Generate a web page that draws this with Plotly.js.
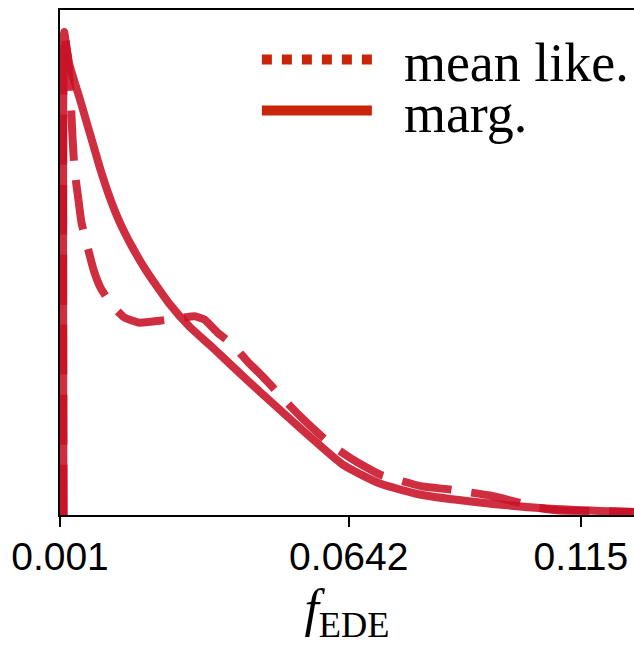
<!DOCTYPE html>
<html>
<head>
<meta charset="utf-8">
<script src="https://cdn.plot.ly/plotly-3.0.1.min.js"></script>
<style>html,body{margin:0;padding:0;background:#fff;}#plot{width:634px;height:645px;}</style>
</head>
<body>
<div id="plot"></div>
<script>
// marginal posterior (solid)
const margX = [0.00177, 0.00192, 0.00242, 0.00308, 0.00418, 0.00527, 0.0068, 0.00834, 0.00987, 0.01184, 0.01403, 0.01666, 0.01973, 0.02477, 0.02937, 0.03441, 0.04185, 0.04908, 0.05566, 0.06288, 0.071, 0.07975, 0.0929, 0.10757, 0.11918, 0.12663];
const margY = [0, 1.0, 0.9669, 0.9318, 0.8966, 0.8635, 0.8139, 0.7642, 0.7146, 0.6587, 0.607, 0.5574, 0.5078, 0.4395, 0.3898, 0.3464, 0.2802, 0.2182, 0.1624, 0.1044, 0.0651, 0.0424, 0.0259, 0.0134, 0.0083, 0.0062];
// mean likelihood (dashed)
const likeX = [0.00177, 0.00192, 0.00264, 0.0033, 0.00374, 0.00418, 0.00505, 0.00571, 0.00702, 0.00834, 0.00987, 0.01228, 0.01513, 0.01842, 0.0228, 0.02718, 0.03046, 0.03265, 0.0355, 0.03879, 0.04207, 0.04536, 0.04864, 0.05171, 0.05456, 0.05784, 0.06113, 0.06442, 0.06771, 0.071, 0.07537, 0.08041, 0.08632, 0.09092, 0.09509, 0.10056, 0.10538, 0.11042, 0.11984, 0.12663];
const likeY = [0, 0.998, 0.9524, 0.8697, 0.7818, 0.7146, 0.6515, 0.605, 0.5553, 0.5078, 0.4705, 0.4354, 0.4085, 0.3981, 0.4023, 0.4075, 0.4116, 0.4044, 0.3774, 0.3526, 0.3175, 0.2865, 0.2534, 0.2223, 0.1954, 0.1665, 0.1396, 0.1189, 0.1003, 0.0838, 0.0713, 0.0589, 0.0527, 0.0465, 0.0403, 0.0279, 0.0155, 0.0093, 0.0083, 0.0062];
const tickVals = [0.001, 0.0642, 0.115];
const tickText = ['0.001', '0.0642', '0.115'];
const legendNames = ['\u00a0\u00a0mean like.', '\u00a0\u00a0marg.'];

const curveColor = 'rgba(200,16,38,0.88)';
const legendColor = '#c8250a';
const legendFont = {family: 'Liberation Serif, serif', size: 54, color: '#000'};

const traces = [
  {x: likeX, y: likeY, mode: 'lines', showlegend: false, hoverinfo: 'skip',
   line: {color: curveColor, width: 8, dash: '50px,20px', shape: 'spline', smoothing: 0.4}},
  {x: margX, y: margY, mode: 'lines', showlegend: false, hoverinfo: 'skip',
   line: {color: curveColor, width: 8, shape: 'spline', smoothing: 0.5}},
  {x: [null], y: [null], mode: 'lines', name: legendNames[0], showlegend: true, legend: 'legend',
   line: {color: legendColor, width: 10, dash: 'dot'}},
  {x: [null], y: [null], mode: 'lines', name: legendNames[1], showlegend: true, legend: 'legend2',
   line: {color: legendColor, width: 10}}
];

const layout = {
  width: 634, height: 645,
  margin: {l: 60, r: 0, t: 10, b: 130, pad: 0},
  paper_bgcolor: '#fff', plot_bgcolor: '#fff',
  showlegend: true,
  legend: {x: 0.343, y: 0.901, xanchor: 'left', yanchor: 'middle', bgcolor: 'rgba(0,0,0,0)',
           font: legendFont, itemwidth: 110},
  legend2: {x: 0.343, y: 0.80, xanchor: 'left', yanchor: 'middle', bgcolor: 'rgba(0,0,0,0)',
           font: legendFont, itemwidth: 110},
  xaxis: {
    range: [0.001, 0.12663], showgrid: false, zeroline: false,
    showline: true, linecolor: '#000', linewidth: 2, mirror: true,
    ticks: 'outside', ticklen: 10, tickwidth: 2, tickcolor: '#000',
    tickvals: tickVals, ticktext: tickText, ticklabelstandoff: -4,
    tickfont: {family: 'Liberation Sans, sans-serif', size: 39, color: '#000'},
    title: {text: '<i>f</i><sub>EDE</sub>', font: {family: 'Liberation Serif, serif', size: 52, color: '#000'}, standoff: 19}
  },
  yaxis: {
    range: [0, 1.0455], showgrid: false, zeroline: false,
    showline: true, linecolor: '#000', linewidth: 2,
    ticks: '', showticklabels: false
  }
};

Plotly.newPlot('plot', traces, layout, {displayModeBar: false, staticPlot: true});
</script>
</body>
</html>
